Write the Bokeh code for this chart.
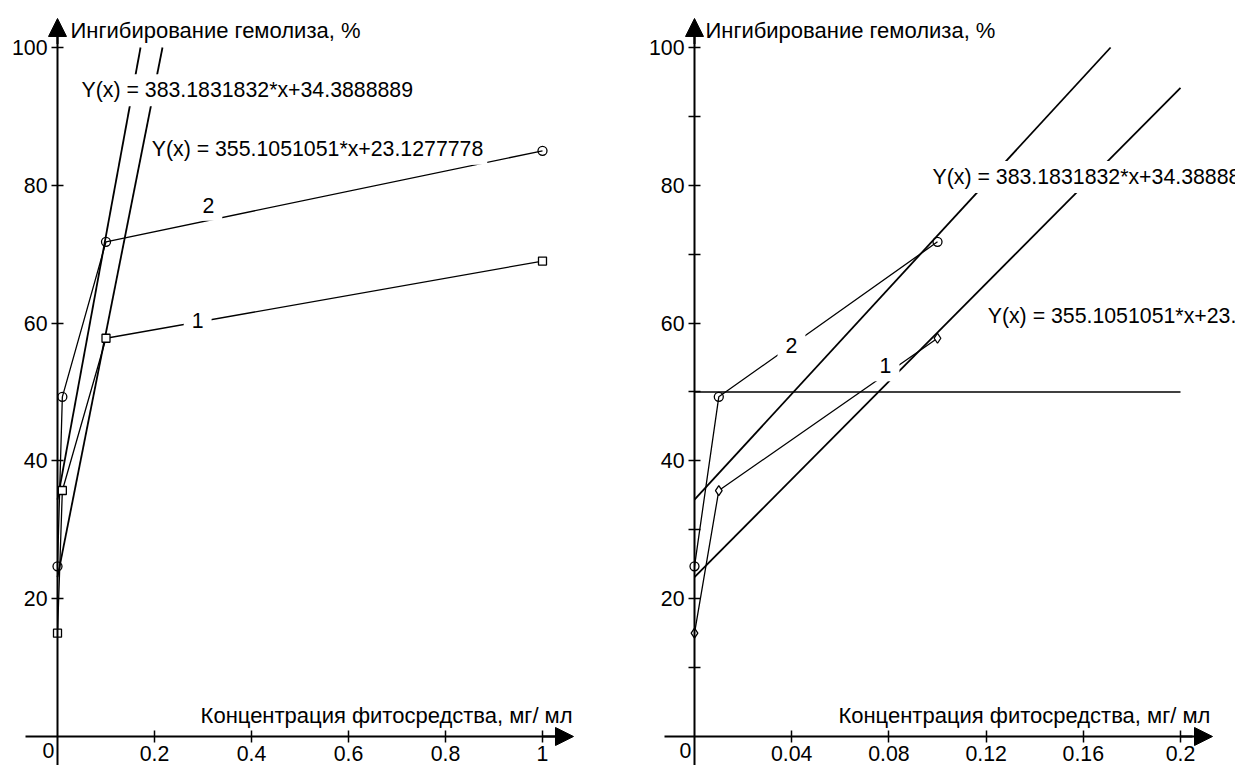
from bokeh.plotting import figure
from bokeh.layouts import row
from bokeh.models import Range1d, FixedTicker, Arrow, NormalHead, Label
from bokeh.embed import file_html
from bokeh.resources import INLINE

# ---- data ----
conc_left = [0, 0.01, 0.1, 1]
inhib1_left = [15.0, 35.7, 57.8, 69.0]
inhib2_left = [24.7, 49.3, 71.8, 85.0]

conc_right = [0, 0.01, 0.1]
inhib1_right = [15.0, 35.7, 57.8]
inhib2_right = [24.7, 49.3, 71.8]

fit1_slope, fit1_icpt = 355.1051051, 23.1277778
fit2_slope, fit2_icpt = 383.1831832, 34.3888889
eq1_text = "Y(x) = 355.1051051*x+23.1277778"
eq2_text = "Y(x) = 383.1831832*x+34.3888889"

xticks_left = [0.2, 0.4, 0.6, 0.8, 1.0]
xticks_right = [0.04, 0.08, 0.12, 0.16, 0.2]
yticks = [20, 40, 60, 80, 100]
yminor_right = [10, 30, 50, 70, 90]
threshold = 50
y_title = "Ингибирование гемолиза, %"
x_title = "Концентрация фитосредства, мг/ мл"

FONT = "Liberation Sans"
FS = "21.3px"
FS_T = "22px"
H = 765
Y0, YS = -4.209, 106.82


def base_fig(width, xs, xe, xbounds, xticks, xarrow, minor=None):
    p = figure(width=width, height=H, x_range=Range1d(xs, xe), y_range=Range1d(Y0, YS),
               output_backend="svg", toolbar_location=None, min_border=0)
    p.outline_line_color = None
    p.grid.visible = False
    p.xaxis.fixed_location = 0
    p.yaxis.fixed_location = 0
    p.xaxis.bounds = xbounds
    p.yaxis.bounds = (Y0, 101.7)
    p.xaxis.ticker = FixedTicker(ticks=xticks)
    p.yaxis.ticker = FixedTicker(ticks=yticks, minor_ticks=minor or [])
    for ax in p.axis:
        ax.axis_line_width = 2
        ax.axis_line_color = "black"
        ax.major_tick_in = 6
        ax.major_tick_out = 6
        ax.minor_tick_in = 6
        ax.minor_tick_out = 6
        ax.major_tick_line_width = 1.5
        ax.minor_tick_line_width = 1.5
        ax.major_label_text_font = FONT
        ax.major_label_text_font_size = FS
        ax.major_label_text_color = "black"
        ax.major_label_standoff = 4
    p.add_layout(Arrow(end=NormalHead(size=18, fill_color="black", line_color="black"),
                       x_start=xarrow[0], y_start=0, x_end=xarrow[1], y_end=0,
                       line_width=2, line_color="black"))
    p.add_layout(Arrow(end=NormalHead(size=18, fill_color="black", line_color="black"),
                       x_start=0, y_start=100.5, x_end=0, y_end=104.21,
                       line_width=2, line_color="black"))
    p.add_layout(Label(x=0, y=0, x_offset=-9, y_offset=-14, text="0", text_align="center",
                       text_baseline="middle", text_font=FONT, text_font_size=FS,
                       text_color="black"))
    return p


def label(p, x, y, text, align="left", pad=4):
    p.add_layout(Label(x=x, y=y, text=text, text_align=align, text_baseline="middle",
                       text_font=FONT, text_font_size=FS, text_color="black",
                       background_fill_color="white", padding=pad))


def title(p, x, y, text, align):
    p.add_layout(Label(x=x, y=y, text=text, text_align=align, text_baseline="middle",
                       text_font=FONT, text_font_size=FS_T, text_color="black"))


# ---- left panel ----
p1 = base_fig(617, -0.11753, 1.15464, (-0.066, 1.04), xticks_left, (1.0, 1.0639))
for slope, icpt in [(fit1_slope, fit1_icpt), (fit2_slope, fit2_icpt)]:
    xe = (100 - icpt) / slope
    p1.line([0, xe], [icpt, slope * xe + icpt], line_width=1.8, line_color="black")
p1.line(conc_left, inhib1_left, line_width=1.3, line_color="black")
p1.line(conc_left, inhib2_left, line_width=1.3, line_color="black")
p1.scatter(conc_left, inhib1_left, marker="square", size=8, fill_color="white",
           line_color="black", line_width=1.3)
p1.scatter(conc_left, inhib2_left, marker="circle", size=9, fill_color=None,
           line_color="black", line_width=1.3)
label(p1, 0.0412, 93.8, eq2_text)
label(p1, 0.186, 85.3, eq1_text)
label(p1, 0.311, 77.1, "2", "center", 8)
label(p1, 0.289, 60.4, "1", "center", 8)
title(p1, 0.0268, 102.5, y_title, "left")
title(p1, 1.062, 3.0, x_title, "right")

# ---- right panel ----
p2 = base_fig(618, -0.031687, 0.22263, (-0.01235, 0.205), xticks_right, (0.2, 0.21317),
              minor=yminor_right)
for slope, icpt in [(fit1_slope, fit1_icpt), (fit2_slope, fit2_icpt)]:
    xe = min(0.2, (100 - icpt) / slope)
    p2.line([0, xe], [icpt, slope * xe + icpt], line_width=1.8, line_color="black")
p2.line([0, 0.2], [threshold, threshold], line_width=1.5, line_color="black")
p2.line(conc_right, inhib1_right, line_width=1.3, line_color="black")
p2.line(conc_right, inhib2_right, line_width=1.3, line_color="black")
p2.scatter(conc_right, inhib1_right, marker="diamond", size=10, fill_color="white",
           line_color="black", line_width=1.3)
p2.scatter(conc_right, inhib2_right, marker="circle", size=9, fill_color=None,
           line_color="black", line_width=1.3)
label(p2, 0.0963, 81.2, eq2_text)
label(p2, 0.119, 61.1, eq1_text)
label(p2, 0.0399, 56.7, "2", "center", 8)
label(p2, 0.0786, 53.8, "1", "center", 8)
title(p2, 0.0045, 102.5, y_title, "left")
title(p2, 0.2123, 3.0, x_title, "right")

layout = row(p1, p2)
open("out.html", "w").write(file_html(layout, INLINE))
